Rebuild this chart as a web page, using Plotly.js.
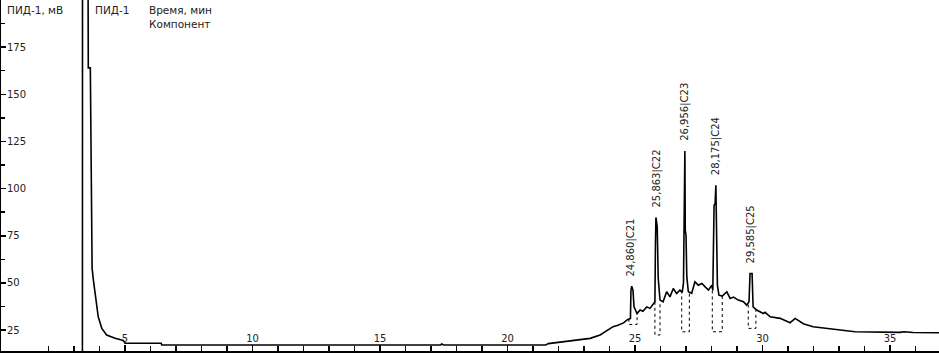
<!DOCTYPE html>
<html><head><meta charset="utf-8">
<script src="https://cdn.plot.ly/plotly-3.0.1.min.js"></script>
<style>html,body{margin:0;padding:0;background:#fff}#chart{width:939px;height:354px}</style>
</head><body><div id="chart"></div>
<script>
// Chromatogram signal (time, min ; signal, mV)
const timeMin = [0.15,3.33,3.35,3.55,3.56,3.64,3.67,3.71,3.76,3.85,3.95,4.09,4.28,4.61,4.93,4.97,5.0,6.42,6.44,17.38,17.42,17.5,21.5,21.6,22.06,22.84,23.24,23.63,23.94,24.14,24.33,24.55,24.70,24.82,24.84,24.87,24.92,24.96,25.08,25.2,25.31,25.46,25.59,25.72,25.78,25.80,25.82,25.87,25.90,25.91,25.98,26.1,26.24,26.37,26.5,26.63,26.76,26.85,26.90,26.93,26.955,26.97,27.0,27.03,27.09,27.22,27.35,27.48,27.62,27.75,27.88,28.01,28.05,28.10,28.14,28.17,28.2,28.23,28.29,28.42,28.60,28.73,28.86,29.05,29.25,29.38,29.47,29.51,29.59,29.62,29.63,29.77,30.03,30.1,30.3,30.69,31.08,31.28,31.6,31.98,32.5,32.91,33.63,35.39,35.55,35.9,36.92];
const signalMv = [10,10,1200,1200,164,164,100,57.7,51.5,40.9,32,25.9,22.4,20.6,19.5,18.8,18,18,17.1,17.1,17.6,17.1,17.1,17.8,18.6,20.1,20.6,22.4,25,26.8,27.5,28.8,30.5,31.2,46,48.3,46,37.3,33.8,35.6,35,37.3,36.5,39.1,40,70,84.7,79.8,60,52.5,40.9,40,45.3,42.6,47,44.4,46.2,45,50,100,120,78,75,53.3,45.3,44.5,50.6,48.8,49.7,47.9,46.2,48.8,46,91.2,92,101.8,75,48.8,43.5,43,45.3,41.8,42.5,40.9,40,38.2,40,55,55,45,37.3,35.6,33.8,34.4,32,31.2,28.9,31.2,28.4,26.8,25.9,25,24.1,23.8,24.1,23.7,23.6];

// Identified peaks
const peakTimes = [24.860, 25.863, 26.956, 28.175, 29.585];
const peakNames = ['C21', 'C22', 'C23', 'C24', 'C25'];
const peakHeights = [48.3, 84.7, 120, 101.8, 55];

// Integration marks
const intStart = [24.76, 25.78, 26.83, 28.03, 29.44];
const intEnd = [25.08, 25.98, 27.13, 28.42, 29.74];
const intStartTop = [31, 40, 46, 46, 38.5];
const intEndTop = [34.7, 40, 45.5, 43.2, 35.6];
const intBottom = [28, 22.4, 24.1, 24.1, 25.9];

// Axis ticks
const xTickVals = [5, 10, 15, 20, 25, 30, 35];
const yTickVals = [25, 50, 75, 100, 125, 150, 175];

const FONT = 'DejaVu Sans, Verdana, sans-serif';
const traces = [];
for (let i = 0; i < peakTimes.length; i++) {
  traces.push({
    x: [intStart[i], intStart[i], intEnd[i], intEnd[i]],
    y: [intStartTop[i], intBottom[i], intBottom[i], intEndTop[i]],
    mode: 'lines', line: {color: '#000', width: 1, dash: 'dot'},
    hoverinfo: 'skip', showlegend: false
  });
}
traces.push({
  x: timeMin, y: signalMv, mode: 'lines',
  line: {color: '#000', width: 1.6}, showlegend: false
});

const annotations = peakTimes.map((t, i) => ({
  x: t, y: peakHeights[i], xref: 'x', yref: 'y',
  text: t.toFixed(3).replace('.', ',') + '|' + peakNames[i],
  textangle: -90, showarrow: false, xanchor: 'center', yanchor: 'bottom',
  yshift: 8, font: {family: FONT, size: 10, color: '#222'}
}));
annotations.push(
  {xref: 'paper', yref: 'paper', x: 4/938, y: 1 - 2/351, xanchor: 'left', yanchor: 'top', showarrow: false,
   text: 'ПИД-1, мВ', font: {family: FONT, size: 10.5, color: '#222'}},
  {xref: 'paper', yref: 'paper', x: 92/938, y: 1 - 2/351, xanchor: 'left', yanchor: 'top', showarrow: false,
   text: 'ПИД-1', font: {family: FONT, size: 10.5, color: '#222'}},
  {xref: 'paper', yref: 'paper', x: 146/938, y: 1 - 2/351, xanchor: 'left', yanchor: 'top', showarrow: false,
   text: 'Время, мин<br>Компонент', align: 'left', font: {family: FONT, size: 10.5, color: '#222'}}
);

const layout = {
  width: 939, height: 354,
  margin: {l: 1, r: 0, t: 0, b: 3, pad: 0},
  paper_bgcolor: '#fff', plot_bgcolor: '#fff',
  showlegend: false,
  xaxis: {
    range: [0.137, 36.92], tickvals: xTickVals, ticktext: xTickVals.map(String),
    ticks: 'inside', ticklen: 6, tickwidth: 1.5, tickcolor: '#000',
    ticklabelposition: 'inside', tickfont: {family: FONT, size: 10, color: '#222'},
    showline: true, linecolor: '#000', linewidth: 2, mirror: false,
    showgrid: false, zeroline: false,
    minor: {dtick: 1, tick0: 0, ticks: 'inside', ticklen: 5, tickwidth: 1.5, tickcolor: '#000', showgrid: false}
  },
  yaxis: {
    range: [13.9, 200], tickvals: yTickVals, ticktext: yTickVals.map(String),
    ticks: 'inside', ticklen: 5, tickwidth: 1.5, tickcolor: '#000',
    ticklabelposition: 'inside', tickfont: {family: FONT, size: 10, color: '#222'},
    showline: true, linecolor: '#000', linewidth: 3,
    showgrid: false, zeroline: false,
    minor: {dtick: 12.5, tick0: 0, ticks: 'inside', ticklen: 4, tickwidth: 1.5, tickcolor: '#000', showgrid: false}
  },
  annotations: annotations
};
Plotly.newPlot('chart', traces, layout, {staticPlot: true, displayModeBar: false});
</script></body></html>
